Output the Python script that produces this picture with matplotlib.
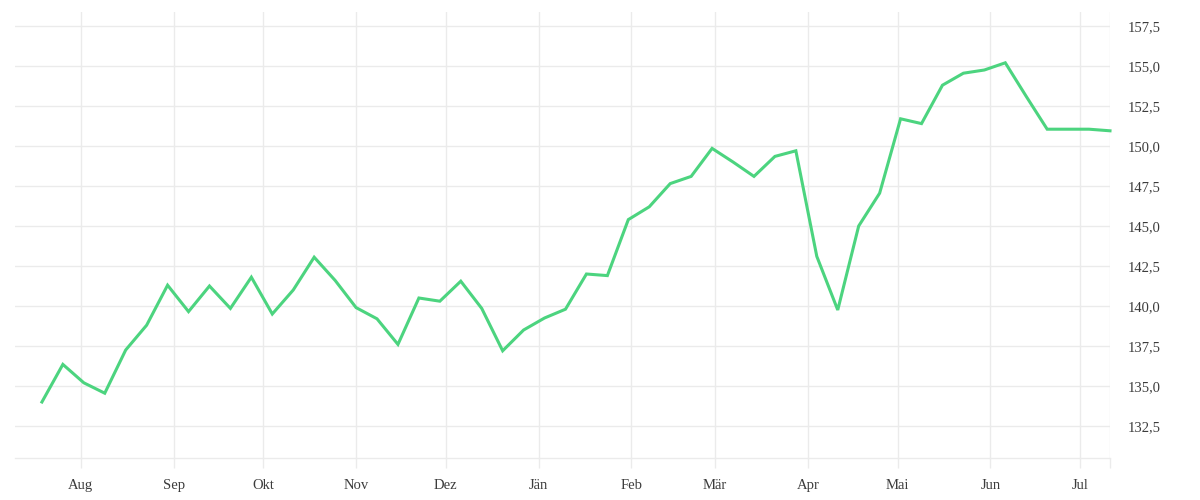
import numpy as np
import pandas as pd
import matplotlib
matplotlib.use("Agg")
import matplotlib.pyplot as plt
import matplotlib.dates as mdates
from matplotlib.ticker import FuncFormatter

# weekly prices
start_date = "2022-07-19"
prices = [134.0, 136.35, 135.2, 134.55, 137.25, 138.8, 141.3, 139.65, 141.25, 139.85,
          141.8, 139.5, 141.0, 143.05, 141.6, 139.9, 139.2, 137.6, 140.5, 140.3,
          141.55, 139.85, 137.2, 138.5, 139.25, 139.8, 142.0, 141.9, 145.4, 146.2,
          147.65, 148.1, 149.85, 149.0, 148.1, 149.35, 149.7, 143.1, 139.75, 145.0,
          147.05, 151.7, 151.4, 153.8, 154.55, 154.75, 155.2, 153.1, 151.05, 151.05,
          151.05, 150.95]
dates = pd.date_range(start_date, periods=len(prices), freq="7D")

month_starts = pd.date_range("2022-08-01", "2023-07-01", freq="MS")
month_labels = ["Aug", "Sep", "Okt", "Nov", "Dez", "Jän", "Feb", "Mär",
                "Apr", "Mai", "Jun", "Jul"]
y_ticks = [132.5, 135.0, 137.5, 140.0, 142.5, 145.0, 147.5, 150.0, 152.5, 155.0, 157.5]

grid_col = "#ebebeb"
text_col = "#3c3c3c"
line_col = "#4cd47f"

plt.rcParams["font.family"] = ["Liberation Serif", "DejaVu Serif"]

fig = plt.figure(figsize=(12, 5), dpi=100)
ax = fig.add_axes([15 / 1200, 1 - 458 / 500, (1110 - 15) / 1200, (458 - 12) / 500])

ax.plot(dates, prices, color=line_col, lw=2.2, solid_joinstyle="miter", clip_on=False, zorder=3)

ax.set_xlim(pd.Timestamp("2022-07-10"), dates[-1])
ax.set_ylim(130.5, 158.375)

# month ticks plus an unlabelled one at the right edge
ax.set_xticks(list(month_starts) + [dates[-1]])
ax.set_xticklabels(month_labels + [""])
ax.tick_params(axis="x", length=7.5, width=1, color=grid_col, pad=7.5,
               labelsize=10.5, labelcolor=text_col)
ax.grid(axis="x", color=grid_col, lw=1)

ax.yaxis.tick_right()
ax.set_yticks(y_ticks)
ax.yaxis.set_major_formatter(FuncFormatter(lambda v, p: f"{v:.1f}".replace(".", ",")))
ax.tick_params(axis="y", length=0, pad=13, labelsize=10.5, labelcolor=text_col)
ax.grid(axis="y", color=grid_col, lw=1)
ax.set_axisbelow(True)

for s in ["top", "left", "right"]:
    ax.spines[s].set_visible(False)
ax.spines["bottom"].set_color(grid_col)
ax.spines["bottom"].set_linewidth(1)

fig.savefig("out.png", dpi=100, facecolor="white")
